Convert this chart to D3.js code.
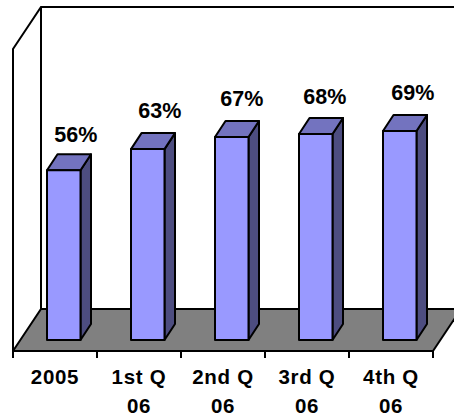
<!DOCTYPE html>
<html>
<head>
<meta charset="utf-8">
<script src="https://cdn.jsdelivr.net/npm/d3@7"></script>
<style>
html,body{margin:0;padding:0;background:#fff}
svg{display:block}
text{font-family:"Liberation Sans",Arial,sans-serif;font-weight:bold;fill:#000}
</style>
</head>
<body>
<svg id="chart" width="454" height="415"></svg>
<script>
const categories = ["2005", "1st Q 06", "2nd Q 06", "3rd Q 06", "4th Q 06"];
const values = [56, 63, 67, 68, 69];
const labelNudge = [0, 0, -2, -3, 1];
const labelLift = [28, 31, 31, 30, 31];

const W = 454, H = 415;
const svg = d3.select("#chart");

// Oblique projection of the chart box
const frontLeft = 13, frontRight = 433, frontBottom = 351;
const depthX = 28, depthY = 42;
const barDepthX = 10.5, barDepthY = 16;

const x = d3.scaleBand().domain(categories).range([frontLeft, frontRight]).paddingInner(0).paddingOuter(0);
const y = d3.scaleLinear().domain([0, 100]).range([340, 37]);

const line = d3.line();
const stroke = "#000";
const lineW = 2;

// Walls
const wallTop = frontBottom - depthY - 302;
svg.append("path").attr("fill", "none").attr("stroke", stroke).attr("stroke-width", lineW)
  .attr("d", line([[frontLeft, frontBottom], [frontLeft, wallTop + depthY], [frontLeft + depthX, wallTop], [W, wallTop]]));
svg.append("path").attr("fill", "none").attr("stroke", stroke).attr("stroke-width", lineW)
  .attr("d", line([[frontLeft + depthX, wallTop], [frontLeft + depthX, frontBottom - depthY]]));

// Floor
svg.append("path").attr("fill", "#808080").attr("stroke", "none")
  .attr("d", line([[frontLeft, frontBottom], [frontLeft + depthX, frontBottom - depthY], [frontRight + depthX, frontBottom - depthY], [frontRight, frontBottom]]) + "Z");
svg.append("path").attr("fill", "none").attr("stroke", stroke).attr("stroke-width", lineW)
  .attr("d", line([[frontRight, frontBottom], [frontRight + depthX, frontBottom - depthY]]));
svg.append("path").attr("fill", "none").attr("stroke", stroke).attr("stroke-width", lineW)
  .attr("d", line([[frontLeft, frontBottom], [frontLeft + depthX, frontBottom - depthY], [frontRight + depthX, frontBottom - depthY]]));

// Axis line with ticks at the category boundaries
const tickXs = categories.map(c => x(c)).concat([frontRight]);
svg.append("line").attr("x1", frontLeft).attr("x2", frontRight).attr("y1", frontBottom).attr("y2", frontBottom)
  .attr("stroke", stroke).attr("stroke-width", lineW);
svg.selectAll("line.tick").data(tickXs).join("line").attr("class", "tick")
  .attr("x1", d => d).attr("x2", d => d).attr("y1", frontBottom).attr("y2", frontBottom + 7)
  .attr("stroke", stroke).attr("stroke-width", lineW);

// Bars as three-sided prisms
const barW = 33.5;
const barX = d => x(d) + 34;
const bars = svg.selectAll("g.bar").data(categories.map((c, i) => ({c, v: values[i], i}))).join("g").attr("class", "bar")
  .attr("stroke", stroke).attr("stroke-width", lineW).attr("stroke-linejoin", "round");
bars.append("path").attr("fill", "#4D4D80").attr("d", d => {
  const l = barX(d.c) + barW, t = y(d.v), b = y(0);
  return line([[l, t], [l + barDepthX, t - barDepthY], [l + barDepthX, b - barDepthY], [l, b]]) + "Z";
});
bars.append("path").attr("fill", "#7373BF").attr("d", d => {
  const l = barX(d.c), t = y(d.v);
  return line([[l, t], [l + barDepthX, t - barDepthY], [l + barW + barDepthX, t - barDepthY], [l + barW, t]]) + "Z";
});
bars.append("path").attr("fill", "#9999FF").attr("d", d => {
  const l = barX(d.c), t = y(d.v), b = y(0);
  return line([[l, t], [l + barW, t], [l + barW, b], [l, b]]) + "Z";
});

// Value labels
svg.selectAll("text.value").data(categories.map((c, i) => ({c, v: values[i], i}))).join("text").attr("class", "value")
  .attr("x", d => barX(d.c) + barW / 2 + 12 + labelNudge[d.i])
  .attr("y", d => y(d.v) - labelLift[d.i])
  .attr("text-anchor", "middle").attr("font-size", 21.5).text(d => d.v + "%");

// Category labels, wrapped to the tick width
const catLabels = svg.selectAll("text.cat").data(categories).join("text").attr("class", "cat")
  .attr("text-anchor", "middle").attr("font-size", 20.5).attr("letter-spacing", 0.7);
catLabels.each(function(c) {
  const parts = c.includes(" ") ? [c.slice(0, c.lastIndexOf(" ")), c.slice(c.lastIndexOf(" ") + 1)] : [c];
  const cx = x(c) + x.bandwidth() / 2;
  parts.forEach((p, i) => d3.select(this).append("tspan").attr("x", cx).attr("y", 384 + i * 29).text(p));
});
</script>
</body>
</html>
